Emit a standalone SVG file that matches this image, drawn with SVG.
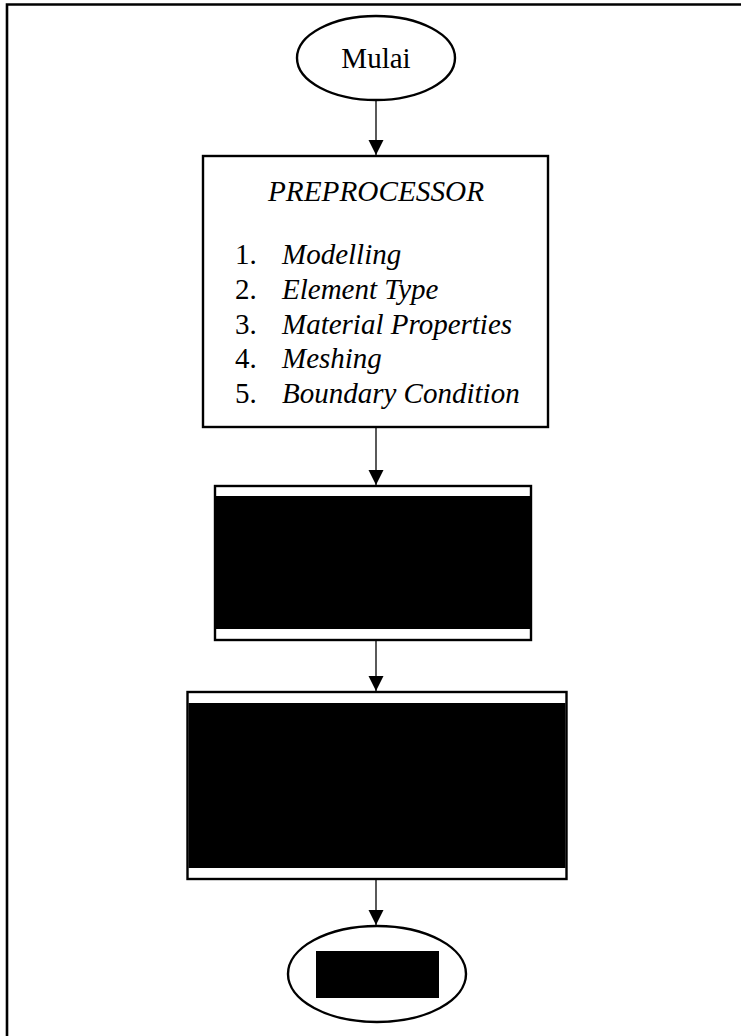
<svg xmlns="http://www.w3.org/2000/svg" width="741" height="1036" viewBox="0 0 741 1036">
<style>
.shape{fill:#fff;stroke:#000;stroke-width:2.4}
.t{font-family:"Liberation Serif","Times New Roman",serif;font-size:29px;fill:#000}
.i{font-style:italic}
.conn{stroke:#000;stroke-width:1.3;fill:none}
.redact{fill:#000}
</style>
<defs>
<marker id="ah" markerUnits="userSpaceOnUse" markerWidth="16" markerHeight="16" viewBox="0 0 16 16" refX="15" refY="8" orient="auto">
<path d="M0,0.5 L15,8 L0,15.5 Z" fill="#000"/>
</marker>
</defs>
<rect width="741" height="1036" fill="#fff"/>
<path d="M7,1040 V4.5 H745" fill="none" stroke="#000" stroke-width="2.6"/>
<g id="connectors">
<line class="conn" x1="376" y1="100" x2="376" y2="155" marker-end="url(#ah)"/>
<line class="conn" x1="376" y1="428" x2="376" y2="485" marker-end="url(#ah)"/>
<line class="conn" x1="376" y1="641" x2="376" y2="691" marker-end="url(#ah)"/>
<line class="conn" x1="376" y1="880" x2="376" y2="925" marker-end="url(#ah)"/>
</g>
<g id="start">
<ellipse class="shape" cx="376" cy="58" rx="79" ry="42"/>
<text class="t" x="376" y="68" text-anchor="middle">Mulai</text>
</g>
<g id="preprocessor">
<rect class="shape" x="203" y="156" width="345" height="271"/>
<text class="t i" x="268" y="201" textLength="216" lengthAdjust="spacingAndGlyphs">PREPROCESSOR</text>
<text class="t" x="235" y="264">1.</text>
<text class="t i" x="282" y="264">Modelling</text>
<text class="t" x="235" y="299">2.</text>
<text class="t i" x="282" y="299">Element Type</text>
<text class="t" x="235" y="334">3.</text>
<text class="t i" x="282" y="334">Material Properties</text>
<text class="t" x="235" y="368">4.</text>
<text class="t i" x="282" y="368">Meshing</text>
<text class="t" x="235" y="403">5.</text>
<text class="t i" x="282" y="403">Boundary Condition</text>
</g>
<g id="process2">
<rect class="shape" x="215" y="486" width="316" height="154"/>
<rect class="redact" x="216" y="496" width="314" height="133"/>
</g>
<g id="process3">
<rect class="shape" x="187.5" y="692" width="379" height="187"/>
<rect class="redact" x="188.5" y="703" width="377" height="165"/>
</g>
<g id="end">
<ellipse class="shape" cx="377" cy="974" rx="89" ry="48"/>
<rect class="redact" x="316" y="951" width="123" height="47"/>
</g>
</svg>
